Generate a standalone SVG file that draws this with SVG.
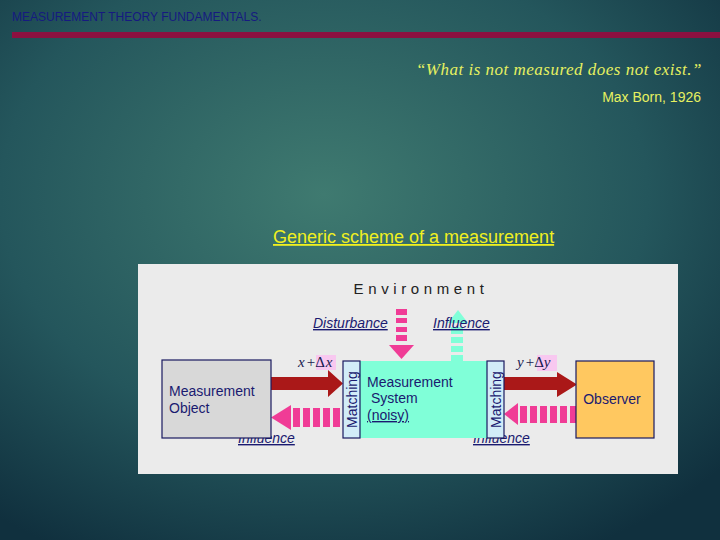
<svg xmlns="http://www.w3.org/2000/svg" width="720" height="540" viewBox="0 0 720 540">
<defs>
<radialGradient id="bg" cx="0.45" cy="0.36" r="0.75">
<stop offset="0" stop-color="#3f7a70"/>
<stop offset="0.6" stop-color="#24565c"/>
<stop offset="1" stop-color="#10303e"/>
</radialGradient>
<clipPath id="clipL"><rect x="200" y="433" width="120" height="20"/></clipPath>
<clipPath id="clipR"><rect x="460" y="433" width="90" height="20"/></clipPath>
<style>
.sans{font-family:"Liberation Sans",Arial,sans-serif}
.lbl{font-family:"Liberation Sans",Arial,sans-serif;font-size:14px;font-style:italic;fill:#1a1a70;text-decoration:underline}
.box{stroke:#1a1a60;stroke-width:1.2}
.btxt{font-family:"Liberation Sans",Arial,sans-serif;font-size:14px;fill:#1a1a70}
.red{fill:#aa1818}
.pink{fill:#f03c96}
.cyan{fill:#80ffd8}
.math{font-family:"Liberation Serif","Times New Roman",serif;font-size:15px;font-style:italic;fill:#1a1a50}
</style>
</defs>
<rect width="720" height="540" fill="url(#bg)"/>
<text x="12" y="21" class="sans" font-size="12" fill="#161a80">MEASUREMENT THEORY FUNDAMENTALS.</text>
<rect x="12" y="32" width="708" height="6" fill="#8c1040"/>
<text x="702" y="75" text-anchor="end" font-family="Liberation Serif,serif" font-style="italic" font-size="17" letter-spacing="0.5" fill="#e6f060">“What is not measured does not exist.”</text>
<text x="701" y="102" text-anchor="end" class="sans" font-size="14" fill="#e6f060">Max Born, 1926</text>
<text x="273" y="243" class="sans" font-size="18" fill="#f0f020" text-decoration="underline">Generic scheme of a measurement</text>

<rect x="138" y="264" width="540" height="210" fill="#ebebeb"/>
<text x="421" y="294" text-anchor="middle" class="sans" font-size="15" fill="#222" letter-spacing="4.6">Environment</text>

<g id="connectors">
<g class="pink">
<rect x="396" y="309" width="11" height="6"/>
<rect x="396" y="318" width="11" height="5"/>
<rect x="396" y="327" width="11" height="5"/>
<rect x="396" y="335" width="11" height="6"/>
<polygon points="389,345 414,345 401.5,359"/>
</g>
<g class="cyan">
<polygon points="448,323 468,323 458,310"/>
<rect x="451" y="327" width="12" height="7"/>
<rect x="451" y="337" width="12" height="6"/>
<rect x="451" y="346" width="12" height="6"/>
<rect x="451" y="355" width="12" height="6"/>
</g>
<polygon class="red" points="271,377 328,377 328,370 343,383.5 328,397 328,390 271,390"/>
<polygon class="red" points="504,377 557,377 557,372 577,384.5 557,397 557,390 504,390"/>
<g class="pink">
<polygon points="271,417.5 291,405 291,430"/>
<rect x="293" y="408" width="7" height="19"/>
<rect x="303" y="408" width="7" height="19"/>
<rect x="313" y="408" width="7" height="19"/>
<rect x="323" y="408" width="7" height="19"/>
<rect x="333" y="408" width="7" height="19"/>
<polygon points="504,414 518,403 518,425"/>
<rect x="520" y="406" width="7" height="17"/>
<rect x="530" y="406" width="7" height="17"/>
<rect x="540" y="406" width="7" height="17"/>
<rect x="550" y="406" width="7" height="17"/>
<rect x="560" y="406" width="7" height="17"/>
<rect x="570" y="406" width="7" height="17"/>
</g>
<text x="313" y="328" class="lbl">Disturbance</text>
<text x="433" y="328" class="lbl">Influence</text>
<text x="238" y="443" class="lbl" clip-path="url(#clipL)">Influence</text>
<text x="473" y="443" class="lbl" clip-path="url(#clipR)">Influence</text>
<rect x="316" y="355" width="20" height="15" fill="#f8c8f0"/>
<text x="298" y="367" class="math">x<tspan font-style="normal" dx="2">+Δ</tspan><tspan dx="1">x</tspan></text>
<rect x="537" y="355" width="20" height="16" fill="#f8c8f0"/>
<text x="517" y="367" class="math">y<tspan font-style="normal" dx="2">+Δ</tspan>y</text>
</g>

<g id="object">
<rect class="box" x="162" y="360" width="109" height="78" fill="#d8d8d8"/>
<text x="169" y="396" class="btxt">Measurement</text>
<text x="169" y="413" class="btxt">Object</text>
</g>
<g id="system">
<rect x="360" y="361" width="127" height="77" fill="#80ffd8"/>
<text x="367" y="387" class="btxt" font-size="13">Measurement</text>
<text x="371" y="403" class="btxt" font-size="13">System</text>
<text x="367" y="420" class="btxt" font-size="13" text-decoration="underline">(noisy)</text>
</g>
<g id="matching1">
<rect class="box" x="343" y="361" width="17" height="77" fill="#d2ecf8"/>
<text transform="translate(356.5,399.5) rotate(-90)" text-anchor="middle" class="btxt" font-size="13">Matching</text>
</g>
<g id="matching2">
<rect class="box" x="487" y="361" width="17" height="77" fill="#d2ecf8"/>
<text transform="translate(500.5,399.5) rotate(-90)" text-anchor="middle" class="btxt" font-size="13">Matching</text>
</g>
<g id="observer">
<rect class="box" x="576" y="361" width="78" height="77" fill="#ffc860"/>
<text x="612" y="404" text-anchor="middle" class="btxt" font-size="13" fill="#331a30">Observer</text>
</g>
</svg>
